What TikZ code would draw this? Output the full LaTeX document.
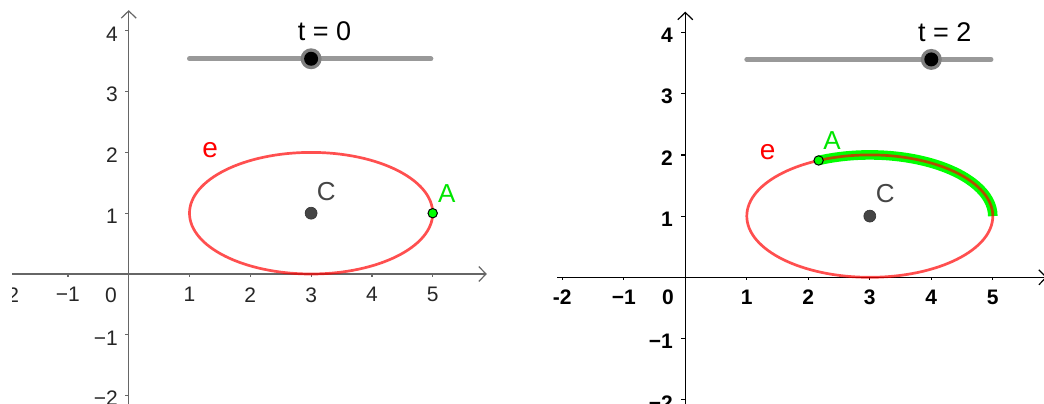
\documentclass[tikz,border=0pt]{standalone}
\usepackage{fontspec}
\setmainfont{Liberation Sans}
\usetikzlibrary{arrows.meta}
\definecolor{curvered}{rgb}{1,0,0}
\definecolor{tracegreen}{rgb}{0,1,0}
\definecolor{labelgreen}{rgb}{0,0.9,0}
\definecolor{centergray}{gray}{0.27}
\definecolor{slidergray}{gray}{0.6}
\tikzset{
  axisline/.style={line width=0.6pt},
  ticklabel/.style={inner sep=0pt,font=\fontsize{10.5}{12}\selectfont},
  ptlabel/.style={inner sep=0pt,font=\fontsize{13}{15}\selectfont},
  ellipsecurve/.style={curvered,draw opacity=0.69,line width=1.35pt},
  tracecurve/.style={tracegreen,line width=4.8pt},
  sliderbar/.style={slidergray,line width=2.5pt,line cap=round},
  pointA/.style={circle,fill=tracegreen,draw=black,line width=0.5pt,inner sep=0pt,minimum size=4.7pt},
  pointC/.style={circle,fill=centergray,draw=black!80,line width=0.3pt,inner sep=0pt,minimum size=6pt}
}
\begin{document}
\begin{tikzpicture}[>={Straight Barb[length=3.6pt,width=7.5pt]}]
\useasboundingbox (0,0) rectangle (522pt,201.5pt);
\clip (0,0) rectangle (522pt,201.5pt);
% t = 0
\begin{scope}
\clip (6pt,0) rectangle (255pt,201.5pt);
\begin{scope}[shift={(64.35pt,64.5pt)},x=30.4pt,y=30.4pt,black!60]
\draw[->,axisline] (-2.3,0)--(5.89,0);
\draw[->,axisline] (0,-2.3)--(0,4.34);
\foreach \x/\lab in {-2/−2,-1/−1,1/1,2/2,3/3,4/4,5/5}{
  \draw[axisline] (\x,0)--++(0,-1.5pt);
  \node[ticklabel,text=black!85,below=6.5pt] (xl\x) at (\x,0) {\lab};
}
\foreach \y/\lab in {-2/−2,-1/−1,1/1,2/2,3/3,4/4}{
  \draw[axisline] (0,\y)--++(-2pt,0);
  \node[ticklabel,text=black!85,left=5.2pt,yshift=-1.5pt] (yl\y) at (0,\y) {\lab};
}
\node[ticklabel,text=black!85,anchor=north east] (zero) at (-5.8pt,-6.5pt) {0};
\end{scope}
\begin{scope}[shift={(64.35pt,64.5pt)},x=30.4pt,y=30.4pt]
\draw[ellipsecurve] (3,1) ellipse[x radius=2,y radius=1];
\draw[sliderbar] (1,3.54)--(4.97,3.54);
\node[circle,fill=black!50,inner sep=0pt,minimum size=10.5pt] (knob) at (3,3.54) {};
\node[circle,fill=black,inner sep=0pt,minimum size=7pt] at (knob) {};
\node[ptlabel,font=\fontsize{13.5}{16}\selectfont] (tval) at (3.22,4) {t = 0};
\node[pointC] (C) at (3,1) {};
\node[ptlabel,text=centergray] (Clab) at (3.25,1.36) {C};
\node[pointA] (A) at (5,1) {};
\node[ptlabel,text=labelgreen] (Alab) at (5.23,1.32) {A};
\node[ptlabel,text=curvered,font=\fontsize{14}{16}\selectfont] (elab) at (1.34,2.03) {e};
\end{scope}
\end{scope}
% t = 2
\begin{scope}[shift={(342.65pt,62.85pt)},x=30.75pt,y=30.6pt]
\draw[->,axisline] (-2.08,0)--(5.88,0);
\draw[->,axisline] (0,-2.3)--(0,4.34);
\foreach \x/\lab in {-2/-2,-1/−1,1/1,2/2,3/3,4/4,5/5}{
  \draw[axisline] (\x,0)--++(0,-1.5pt);
  \node[ticklabel,font=\fontsize{10.5}{12}\bfseries,below=6pt] (xr\x) at (\x,0) {\lab};
}
\foreach \y/\lab in {-2/−2,-1/−1,1/1,2/2,3/3,4/4}{
  \draw[axisline] (0,\y)--++(-2pt,0);
  \node[ticklabel,font=\fontsize{10.5}{12}\bfseries,left=6pt,yshift=-1.5pt] (yr\y) at (0,\y) {\lab};
}
\node[ticklabel,font=\fontsize{10.5}{12}\bfseries,anchor=north east] (zero) at (-5.5pt,-6pt) {0};
\draw[tracecurve] (5,1) arc[start angle=0,end angle=114.59,x radius=2,y radius=1];
\draw[ellipsecurve] (3,1) ellipse[x radius=2,y radius=1];
\draw[sliderbar] (1,3.56)--(4.97,3.56);
\node[circle,fill=black!50,inner sep=0pt,minimum size=10.5pt] (knob) at (4,3.56) {};
\node[circle,fill=black,inner sep=0pt,minimum size=7pt] at (knob) {};
\node[ptlabel,font=\fontsize{13.5}{16}\selectfont] (tval) at (4.22,4) {t = 2};
\node[pointC] (C) at (3,1) {};
\node[ptlabel,text=centergray] (Clab) at (3.25,1.37) {C};
\node[pointA] (A) at ({3+2*cos(114.59)},{1+sin(114.59)}) {};
\node[ptlabel,text=labelgreen] (Alab) at ([shift={(0.22,0.33)}]A) {A};
\node[ptlabel,text=curvered,font=\fontsize{14}{16}\selectfont] (elab) at (1.34,2.04) {e};
\end{scope}
\end{tikzpicture}
\end{document}
